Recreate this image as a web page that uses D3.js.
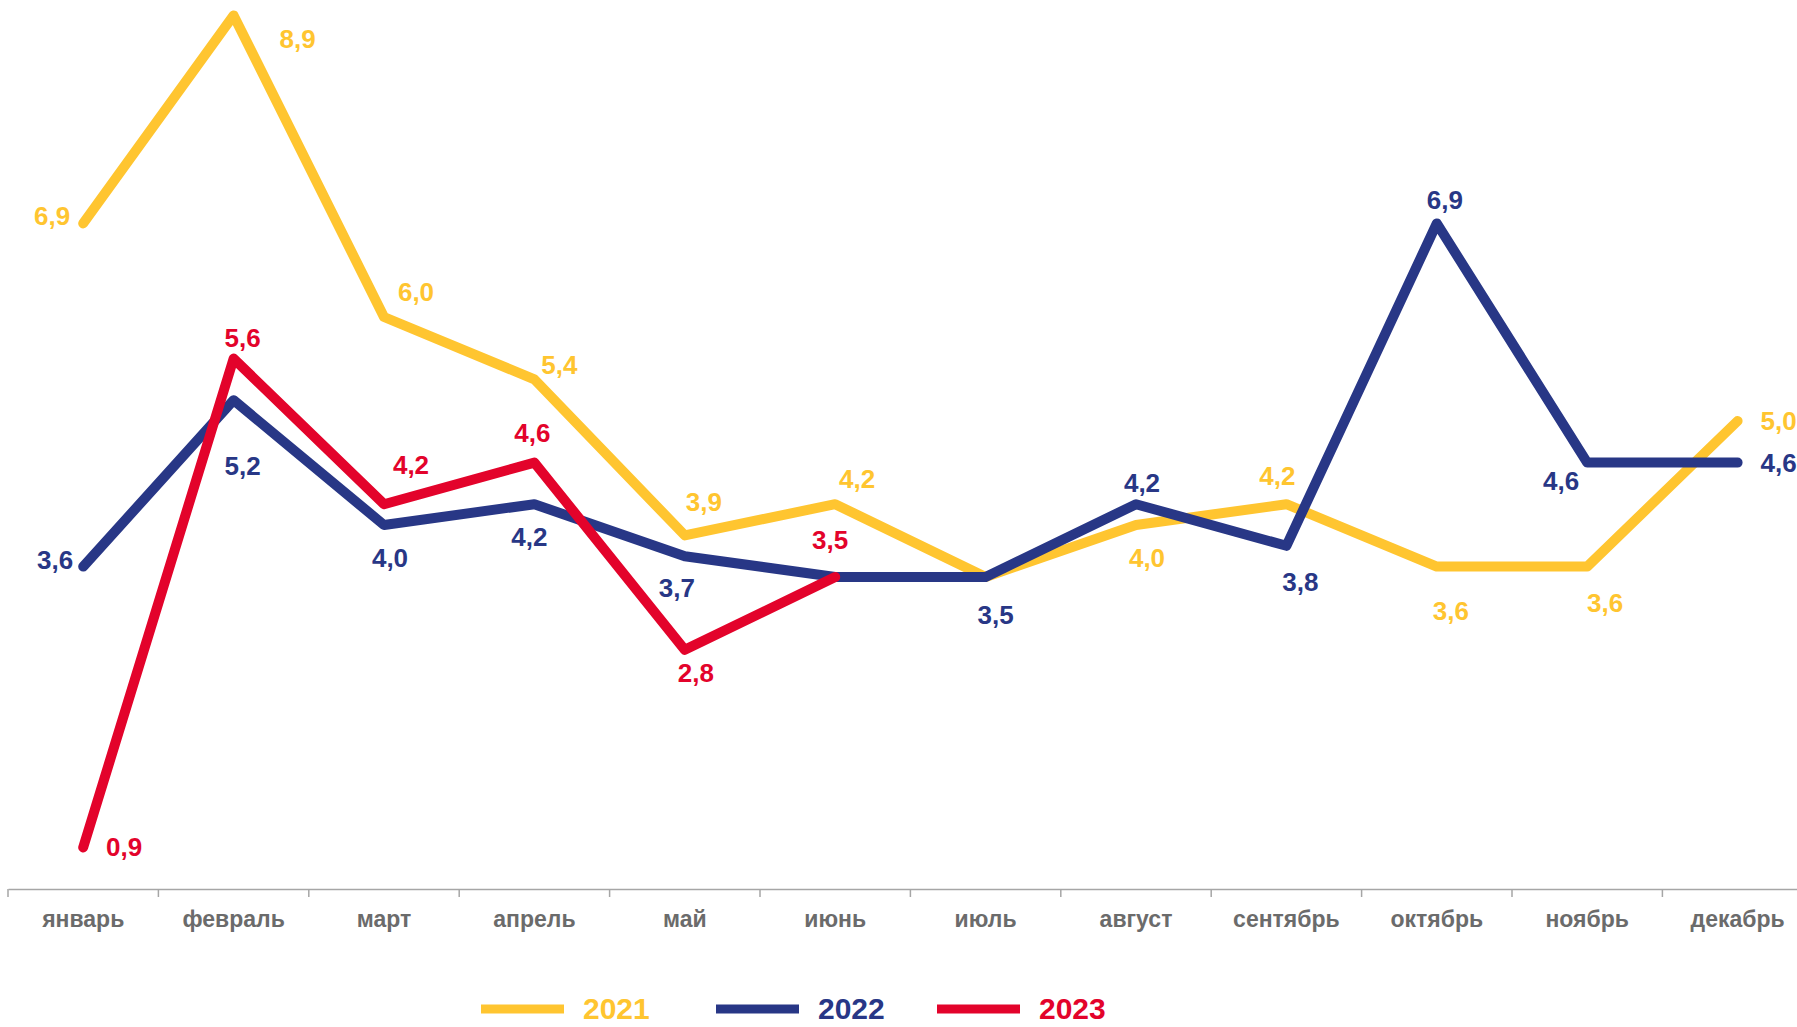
<!DOCTYPE html>
<html lang="ru">
<head>
<meta charset="utf-8">
<title>Line chart 2021-2023</title>
<script src="https://cdn.jsdelivr.net/npm/d3@7"></script>
<style>
  body { margin: 0; background: #fff; }
  svg { display: block; font-family: "Liberation Sans", Arial, sans-serif; }
</style>
</head>
<body>
<script>
// data
var months = ["январь", "февраль", "март", "апрель", "май", "июнь",
              "июль", "август", "сентябрь", "октябрь", "ноябрь", "декабрь"];
var years = ["2021", "2022", "2023"];
var v2021 = [6.9, 8.9, 6.0, 5.4, 3.9, 4.2, 3.5, 4.0, 4.2, 3.6, 3.6, 5.0];
var v2022 = [3.6, 5.2, 4.0, 4.2, 3.7, 3.5, 3.5, 4.2, 3.8, 6.9, 4.6, 4.6];
var v2023 = [0.9, 5.6, 4.2, 4.6, 2.8, 3.5];

// label placement (dx, dy from point), null = no label
var off2021 = [[-31,-7],[64,24],[32,-25],[25,-14],[19,-33],[22,-25],null,[11,33],[-9,-28],[14,44],[18,36],[41,0]];
var off2022 = [[-28,-7],[9,66],[6,33],[-5,33],[-8,32],null,[10,38],[6,-21],[14,36],[8,-23],[-26,18],[41,0]];
var off2023 = [[41,0],[9,-21],[27,-39],[-2,-30],[11,23],[-5,-37]];

var colors = ["#FFC530", "#283786", "#E3032B"];

var w = 1797, h = 1027;
var svg = d3.select("body").append("svg").attr("width", w).attr("height", h);

var x = d3.scaleBand().domain(months).range([8, 8 + 12 * 150.4]);
var y = d3.scaleLinear().domain([0.5, 9]).range([889, 5]);

// x axis
var xAxis = d3.axisBottom(x).tickSize(0).tickPadding(0);
var gx = svg.append("g").attr("transform", "translate(0,889)").call(xAxis);
gx.select(".domain").attr("stroke", "#a6a6a6").attr("stroke-width", 1.5);
gx.selectAll(".tick text")
  .attr("y", 22)
  .attr("font-size", "23px")
  .attr("font-weight", "bold")
  .attr("font-family", "'Liberation Sans', Arial, sans-serif")
  .attr("fill", "#6b6b6b");

// tick marks at band edges
svg.append("g").selectAll("line")
  .data(months)
  .enter().append("line")
  .attr("x1", function(d) { return x(d); })
  .attr("x2", function(d) { return x(d); })
  .attr("y1", 889).attr("y2", 897)
  .attr("stroke", "#a6a6a6").attr("stroke-width", 1.5);

var series = [
  { name: years[0], vals: v2021, off: off2021, color: colors[0] },
  { name: years[1], vals: v2022, off: off2022, color: colors[1] },
  { name: years[2], vals: v2023, off: off2023, color: colors[2] }
];

var line = d3.line()
  .x(function(d, i) { return x(months[i]) + x.bandwidth() / 2; })
  .y(function(d) { return y(d); });

series.forEach(function(s) {
  svg.append("path")
    .datum(s.vals)
    .attr("d", line)
    .attr("fill", "none")
    .attr("stroke", s.color)
    .attr("stroke-width", 10)
    .attr("stroke-linecap", "round")
    .attr("stroke-linejoin", "round");
});

series.forEach(function(s) {
  svg.append("g").selectAll("text")
    .data(s.vals.map(function(v, i) { return { v: v, i: i, o: s.off[i] }; })
                .filter(function(d) { return d.o; }))
    .enter().append("text")
    .attr("x", function(d) { return x(months[d.i]) + x.bandwidth() / 2 + d.o[0]; })
    .attr("y", function(d) { return y(d.v) + d.o[1]; })
    .attr("text-anchor", "middle")
    .attr("dominant-baseline", "central")
    .attr("font-size", "26px")
    .attr("font-weight", "bold")
    .attr("fill", s.color)
    .text(function(d) { return d3.format(".1f")(d.v).replace(".", ","); });
});

// legend
var legendX = [481, 716, 937];
var lg = svg.append("g");
series.forEach(function(s, i) {
  lg.append("line")
    .attr("x1", legendX[i]).attr("x2", legendX[i] + 83)
    .attr("y1", 1009).attr("y2", 1009)
    .attr("stroke", s.color).attr("stroke-width", 9);
  lg.append("text")
    .attr("x", legendX[i] + 102)
    .attr("y", 1019)
    .attr("font-size", "30px")
    .attr("font-weight", "bold")
    .attr("fill", s.color)
    .text(s.name);
});
</script>
</body>
</html>
